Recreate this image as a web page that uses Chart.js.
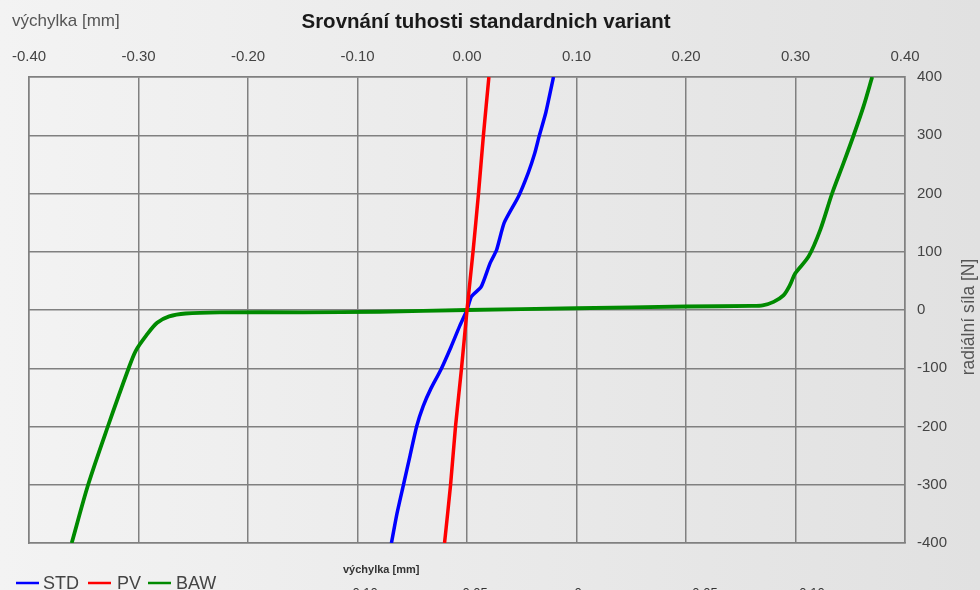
<!DOCTYPE html>
<html>
<head>
<meta charset="utf-8">
<script src="https://cdn.jsdelivr.net/npm/chart.js@4.4.1/dist/chart.umd.min.js"></script>
<style>
html,body{margin:0;padding:0;background:#ececec;}
#wrap{width:980px;height:590px;position:relative;}
</style>
</head>
<body>
<div id="wrap"><canvas id="c" width="980" height="590"></canvas></div>
<script>
// ---- data ----
const titleText = "Srovnání tuhosti standardnich variant";
const xAxisTitle = "výchylka [mm]";
const yAxisTitle = "radiální síla [N]";
const seriesNames = ["STD", "PV", "BAW"];
const seriesColors = ["#0000ff", "#ff0000", "#008a00"];

const stdX = [-0.069,-0.064,-0.058,-0.052,-0.046,-0.040,-0.033,-0.024,-0.0145,-0.007,0,0.004,0.013,0.021,0.027,0.034,0.047,0.056,0.062,0.066,0.072,0.079];
const stdY = [-400,-350,-300,-250,-200,-165,-135,-103,-63,-29,0,23,40,80,103,150,195,236,270,299,339,400];

const pvX = [-0.0205,-0.015,-0.0105,-0.005,0,0.0055,0.0105,0.015,0.020];
const pvY = [-400,-300,-200,-100,0,100,200,300,400];

const bawX = [-0.361,-0.346,-0.328,-0.309,-0.3025,-0.293,-0.283,-0.272,-0.257,-0.226,-0.15,-0.08,0,0.1,0.2,0.26,0.27,0.28,0.289,0.295,0.2998,0.312,0.3227,0.3334,0.344,0.3531,0.3622,0.370];
const bawY = [-400,-300,-200,-100,-70,-44,-22,-11,-6,-4,-4,-3,0,3,6,7,8,14,25,43,63,92,138,200,253,300,350,400];

const xTicks = [-0.4,-0.3,-0.2,-0.1,0,0.1,0.2,0.3,0.4];
const yTicks = [-400,-300,-200,-100,0,100,200,300,400];
const bottomCutLabels = ["-0.10","-0.05","0","0.05","0.10"];

function pts(xs, ys){ return xs.map((x,i)=>({x:x, y:ys[i]})); }

const FONT = "'Liberation Sans', Arial, sans-serif";
const gridCol = "#808080";

const bgPlugin = {
  id:'bg',
  beforeDraw(chart){
    const ctx = chart.ctx;
    const g = ctx.createLinearGradient(0,0,chart.width,0);
    g.addColorStop(0,'#f3f3f3');
    g.addColorStop(1,'#e1e1e1');
    ctx.save();
    ctx.fillStyle = g;
    ctx.fillRect(0,0,chart.width,chart.height);
    ctx.restore();
  }
};

const textPlugin = {
  id:'texts',
  afterDraw(chart){
    const ctx = chart.ctx;
    ctx.save();
    // title
    ctx.fillStyle = '#1a1a1a';
    ctx.font = "bold 20.5px " + FONT;
    ctx.textAlign = 'center';
    ctx.textBaseline = 'middle';
    ctx.fillText(titleText, 486, 22);
    // top-left axis title
    ctx.fillStyle = '#555';
    ctx.font = "17px " + FONT;
    ctx.textAlign = 'left';
    ctx.fillText(xAxisTitle, 12, 21);
    // right axis title rotated (reads bottom-to-top)
    ctx.save();
    ctx.translate(969, 317);
    ctx.rotate(-Math.PI/2);
    ctx.textAlign = 'center';
    ctx.fillStyle = '#555';
    ctx.font = "17.5px " + FONT;
    ctx.fillText(yAxisTitle, 0, 0);
    ctx.restore();
    // legend
    const legItems = [
      {lx:16, tx:43}, {lx:88, tx:117}, {lx:148, tx:176}
    ];
    ctx.font = "18px " + FONT;
    ctx.textBaseline = 'middle';
    ctx.textAlign = 'left';
    legItems.forEach((it,i)=>{
      ctx.strokeStyle = seriesColors[i];
      ctx.lineWidth = 2.5;
      ctx.beginPath();
      ctx.moveTo(it.lx, 583);
      ctx.lineTo(it.lx+23, 583);
      ctx.stroke();
      ctx.fillStyle = '#444';
      ctx.fillText(seriesNames[i], it.tx, 584);
    });
    // bottom chart fragment
    ctx.fillStyle = '#333';
    ctx.font = "bold 11px " + FONT;
    ctx.fillText(xAxisTitle, 343, 570);
    ctx.font = "13px " + FONT;
    ctx.textAlign = 'center';
    ctx.textBaseline = 'top';
    const bx = [363, 473, 578, 705, 812];
    bottomCutLabels.forEach((t,i)=>ctx.fillText(t, bx[i], 587));
    ctx.restore();
  }
};

new Chart(document.getElementById('c'), {
  type:'scatter',
  data:{
    datasets:[
      {label:seriesNames[0], data:pts(stdX,stdY), borderColor:seriesColors[0], backgroundColor:seriesColors[0], showLine:true, pointRadius:0, borderWidth:3.5, tension:0.2, order:2},
      {label:seriesNames[1], data:pts(pvX,pvY), borderColor:seriesColors[1], backgroundColor:seriesColors[1], showLine:true, pointRadius:0, borderWidth:3.5, tension:0.2, order:0},
      {label:seriesNames[2], data:pts(bawX,bawY), borderColor:seriesColors[2], backgroundColor:seriesColors[2], showLine:true, pointRadius:0, borderWidth:3.8, tension:0.3, order:1}
    ]
  },
  options:{
    responsive:false,
    animation:false,
    layout:{padding:{left:29, right:0, top:0, bottom:47}},
    plugins:{legend:{display:false}, title:{display:false}, tooltip:{enabled:false}},
    scales:{
      x:{
        type:'linear', position:'top', min:-0.4, max:0.4,
        afterBuildTicks(s){ s.ticks = xTicks.map(v=>({value:v})); },
        afterFit(s){ s.height = 77; },
        grid:{color:gridCol, lineWidth:1.5, drawTicks:false},
        border:{color:gridCol, width:1.5},
        ticks:{font:{family:FONT, size:15}, color:'#444', padding:11, maxRotation:0, callback:v=>v.toFixed(2)}
      },
      y:{
        type:'linear', position:'right', min:-400, max:400,
        afterBuildTicks(s){ s.ticks = yTicks.map(v=>({value:v})); },
        afterFit(s){ s.width = 75; },
        grid:{color:gridCol, lineWidth:1.5, drawTicks:false},
        border:{color:gridCol, width:1.5},
        ticks:{font:{family:FONT, size:15}, color:'#444', padding:12, callback:v=>String(v)}
      },
      x2:{
        type:'linear', position:'bottom', display:true, min:-0.4, max:0.4,
        afterFit(s){ s.height = 0; },
        grid:{display:false, drawTicks:false}, border:{color:gridCol, width:1.5},
        ticks:{display:false}
      },
      y2:{
        type:'linear', position:'left', display:true, min:-400, max:400,
        afterFit(s){ s.width = 0; },
        grid:{display:false, drawTicks:false}, border:{color:gridCol, width:1.5},
        ticks:{display:false}
      }
    }
  },
  plugins:[bgPlugin, textPlugin]
});
</script>
</body>
</html>
